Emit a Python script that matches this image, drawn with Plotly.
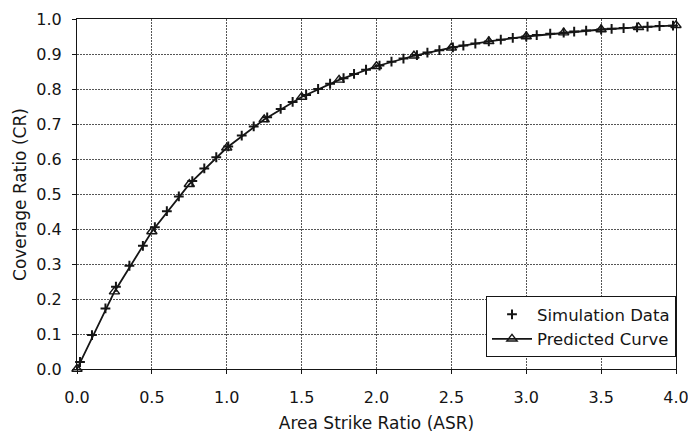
import plotly.graph_objects as go

# Simulation data
sim_asr = [0.02, 0.10, 0.19, 0.26, 0.35, 0.44, 0.52, 0.60, 0.68, 0.77, 0.85, 0.93,
           1.01, 1.10, 1.18, 1.27, 1.36, 1.44, 1.53, 1.61, 1.69, 1.78, 1.85, 1.93,
           2.02, 2.10, 2.18, 2.27, 2.34, 2.42, 2.51, 2.58, 2.66, 2.75, 2.83, 2.91,
           3.00, 3.07, 3.16, 3.25, 3.32, 3.40, 3.50, 3.57, 3.65, 3.74, 3.81, 3.89, 3.98]
sim_cr = [0.020, 0.097, 0.173, 0.235, 0.295, 0.352, 0.405, 0.451, 0.493, 0.537, 0.573, 0.605,
          0.636, 0.667, 0.693, 0.719, 0.743, 0.763, 0.783, 0.800, 0.815, 0.831, 0.843, 0.855,
          0.867, 0.878, 0.887, 0.897, 0.904, 0.911, 0.919, 0.924, 0.930, 0.936, 0.941, 0.946,
          0.950, 0.954, 0.958, 0.961, 0.964, 0.967, 0.970, 0.972, 0.974, 0.976, 0.978, 0.980, 0.981]

# Predicted curve
pred_asr = [0.0, 0.25, 0.5, 0.75, 1.0, 1.25, 1.5, 1.75, 2.0, 2.25, 2.5, 2.75, 3.0, 3.25, 3.5, 3.75, 4.0]
pred_cr = [0.0, 0.221, 0.393, 0.528, 0.632, 0.713, 0.777, 0.826, 0.865, 0.895, 0.918, 0.936,
           0.950, 0.961, 0.970, 0.976, 0.982]

x_ticks = [0.0, 0.5, 1.0, 1.5, 2.0, 2.5, 3.0, 3.5, 4.0]
y_ticks = [0.0, 0.1, 0.2, 0.3, 0.4, 0.5, 0.6, 0.7, 0.8, 0.9, 1.0]

FONT = "DejaVu Sans, Liberation Sans, Arial, sans-serif"
INK = "#151515"

fig = go.Figure()
fig.add_trace(go.Scatter(
    x=sim_asr, y=sim_cr, mode="markers", name="Simulation Data",
    marker=dict(symbol="cross-thin", size=7, color=INK,
                line=dict(color=INK, width=2)),
    cliponaxis=False,
))
fig.add_trace(go.Scatter(
    x=pred_asr, y=pred_cr, mode="lines+markers", name="Predicted Curve",
    line=dict(color=INK, width=1.8),
    marker=dict(symbol="triangle-up-open", size=9, color=INK,
                line=dict(color=INK, width=1.4)),
    cliponaxis=False,
))

fig.update_layout(
    width=688, height=433,
    margin=dict(l=77, r=12, t=19, b=64),
    paper_bgcolor="white", plot_bgcolor="white",
    font=dict(family=FONT, size=16, color=INK),
    showlegend=True,
    legend=dict(
        x=1.0, y=0.034, xanchor="right", yanchor="bottom",
        bgcolor="white", bordercolor=INK, borderwidth=1,
        font=dict(family=FONT, size=16.5, color=INK),
        tracegroupgap=0, itemwidth=40,
    ),
    xaxis=dict(
        range=[0, 4], tickvals=x_ticks, ticktext=[f"{v:.1f}" for v in x_ticks],
        showgrid=True, gridcolor="#555", griddash="2px,1px", gridwidth=1,
        showline=True, linecolor=INK, linewidth=1.2, mirror=True,
        ticks="outside", ticklen=4, tickcolor=INK,
        zeroline=False, automargin=False, ticklabeloverflow="allow",
        ticklabelstandoff=10,
        title=dict(text="Area Strike Ratio (ASR)", font=dict(size=17), standoff=12),
        tickfont=dict(size=16),
    ),
    yaxis=dict(
        range=[0, 1], tickvals=y_ticks, ticktext=[f"{v:.1f}" for v in y_ticks],
        showgrid=True, gridcolor="#555", griddash="2px,1px", gridwidth=1,
        showline=True, linecolor=INK, linewidth=1.2, mirror=True,
        ticks="outside", ticklen=4, tickcolor=INK,
        zeroline=False, automargin=False, ticklabeloverflow="allow",
        ticklabelstandoff=7,
        tickfont=dict(size=16),
    ),
    annotations=[dict(
        text="Coverage Ratio (CR)", textangle=-90, showarrow=False,
        xref="paper", yref="paper", x=-0.0952, y=0.5,
        xanchor="center", yanchor="middle",
        font=dict(family=FONT, size=17, color=INK),
    )],
)

fig.write_html("out.html",
               config={"displayModeBar": False},
               post_script="document.body.style.margin='0';document.body.style.overflow='hidden';")
